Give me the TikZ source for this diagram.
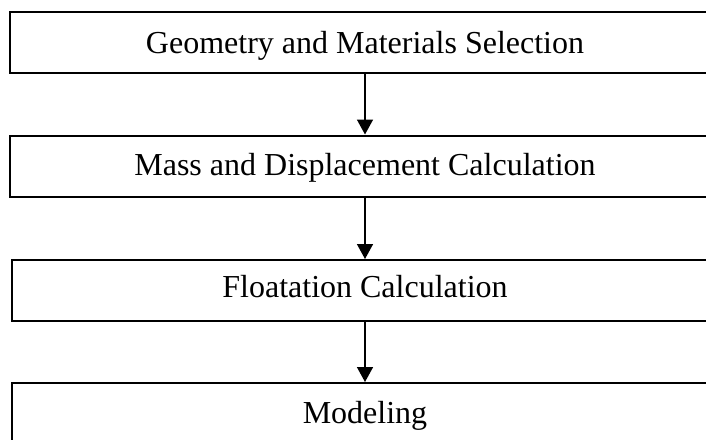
\documentclass[tikz,border=0pt]{standalone}
\usepackage{fontspec}
\setmainfont{Liberation Serif}
\usetikzlibrary{arrows.meta}
\begin{document}
\begin{tikzpicture}[x=1pt,y=-1pt,
  stagebox/.style={draw=black,line width=2pt,minimum width=710pt,minimum height=61pt,inner sep=0pt,text height=22pt,font=\fontsize{32}{38}\selectfont,anchor=center},
  flowarrow/.style={line width=1.6pt,-{Triangle[width=16pt,length=15pt]}}]
\useasboundingbox (0,0) rectangle (706,439);
\clip (0,0) rectangle (706,439);
\fill[white] (0,0) rectangle (706,439);
\node[stagebox,text depth=1pt] (b1) at (365,42.5) {Geometry and Materials Selection};
\node[stagebox,text depth=4pt] (b2) at (365,166) {Mass and Displacement Calculation};
\node[stagebox,text depth=9pt,minimum width=706pt] (b3) at (365,290.5) {Floatation Calculation};
\node[stagebox,text depth=3pt,minimum width=706pt] (b4) at (365,413.5) {Modeling};
\draw[flowarrow] (b1.south) -- (b2.north);
\draw[flowarrow] (b2.south) -- (b3.north);
\draw[flowarrow] (b3.south) -- (b4.north);
\end{tikzpicture}
\end{document}
